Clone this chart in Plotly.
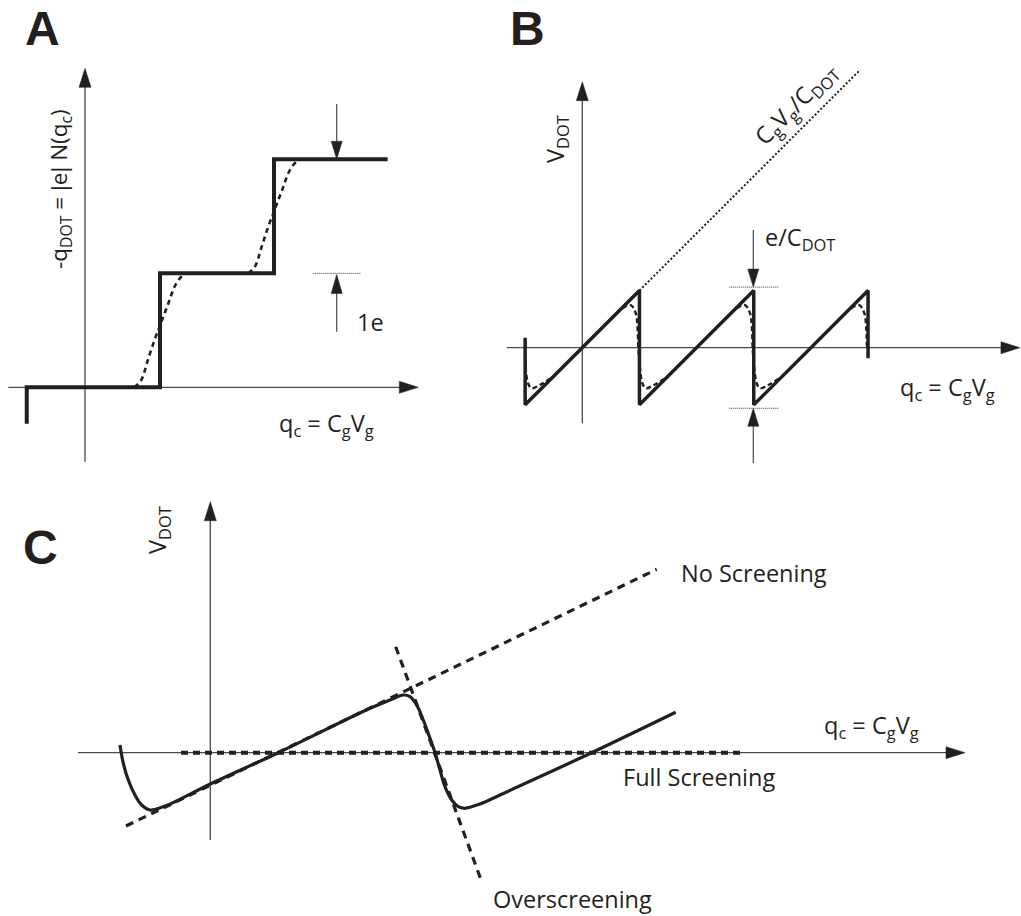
import plotly.graph_objects as go

W, H = 1021, 916
INK = '#231f20'
AXC = '#4a4a4a'
FONT = 'Open Sans'
FS = 23.5

# ---------------- Panel A : charge on the dot (units: one electron) ----------------
A_STEP_X = [-0.511, -0.511, 0.658, 0.658, 1.658, 1.658, 2.655]
A_STEP_Y = [-0.32, 0, 0, 1, 1, 2, 2]
A_EDGE_X = [0.658, 1.658]          # charge-degeneracy points
A_EDGE_BASE = [0, 1]               # level below each step
A_SMOOTH_D = [-0.225, -0.167, -0.108, -0.05, -0.006, 0.038, 0.082, 0.125, 0.169, 0.213, 0.25]
A_SMOOTH_V = [0.0, 0.059, 0.234, 0.41, 0.526, 0.643, 0.76, 0.877, 0.95, 0.99, 1.0]
A_XAXIS = [-0.673, 2.924]
A_YAXIS = [-0.653, 2.798]
A_MARK_X = 2.208
A_DOWN = [2.485, 2.0]
A_UP = [0.488, 0.99]
A_DOT_X = [2.003, 2.418]
A_DOT_Y = [1.0, 1.0]

# ---------------- Panel B : dot potential (sawtooth) ----------------
B_SAW_X = [-0.5, -0.5, 0.5, 0.5, 1.5, 1.5, 2.5, 2.5]
B_SAW_Y = [0.087, -0.5, 0.5, -0.5, 0.5, -0.5, 0.5, -0.093]
B_TEETH = [-0.5, 0.5, 1.5, 2.5]
B_SMOOTH_D = [-0.25, -0.15, -0.076, -0.032, -0.017, -0.01, 0.003, 0.026, 0.055, 0.127, 0.25]
B_SMOOTH_V = [0.25, 0.345, 0.373, 0.30, 0.184, 0.01, -0.166, -0.312, -0.355, -0.326, -0.25]
B_LINE_X = [0.5, 2.43]
B_LINE_Y = [0.5, 2.43]
B_XAXIS = [-0.661, 3.829]
B_YAXIS = [-0.661, 2.327]
B_MARK_X = 1.496
B_DOWN = [1.03, 0.53]
B_UP = [-1.009, -0.53]
B_DOT_X = [1.286, 1.715]
B_DOT_Y = [0.53, -0.53]

# ---------------- Panel C : screening ----------------
C_SOLID_X = [-0.903, -0.87, -0.82, -0.753, -0.686, -0.603, -0.486, -0.353, 0.0, 0.68, 1.597,
             1.797, 1.93, 1.997, 2.064, 2.13, 2.197, 2.247, 2.297, 2.347, 2.414, 2.48, 2.547,
             2.697, 2.897, 3.814, 4.654]
C_SOLID_Y = [0.077, -0.106, -0.273, -0.423, -0.523, -0.573, -0.546, -0.49, -0.313, 0.0, 0.444,
             0.527, 0.577, 0.56, 0.477, 0.327, 0.144, 0.0, -0.173, -0.34, -0.473, -0.54, -0.556,
             -0.513, -0.423, 0.0, 0.404]
C_NOSCREEN_X = [-0.843, 4.464]
C_NOSCREEN_Y = [-0.733, 1.834]
C_FULL_X = [-0.293, 5.347]
C_FULL_Y = [0.0, 0.0]
C_OVER_X = [1.854, 2.714]
C_OVER_Y = [1.06, -1.29]
C_XAXIS = [-1.323, 7.547]
C_YAXIS = [-0.873, 2.51]

# panel boxes in pixels (left, right, top, bottom), origin pixel and px per unit
PANELS = {
    'A': dict(box=(0, 445, 50, 475), origin=(85.0, 387.3), s=114.0, n=''),
    'B': dict(box=(478, 1021, 50, 475), origin=(582.3, 347.7), s=114.3, n='2'),
    'C': dict(box=(0, 1021, 480, 916), origin=(210.3, 752.7), s=100.0, n='3'),
}

fig = go.Figure()


def ax_names(p):
    n = PANELS[p]['n']
    return 'x' + n, 'y' + n


def add_line(p, xs, ys, width, dash='solid', color=INK, shape='linear'):
    xa, ya = ax_names(p)
    fig.add_trace(go.Scatter(x=xs, y=ys, mode='lines', xaxis=xa, yaxis=ya,
                             line=dict(color=color, width=width, dash=dash, shape=shape),
                             hoverinfo='skip', showlegend=False))


def add_head(p, tx, ty, direction, length=19, width=12, color=INK):
    s = PANELS[p]['s']
    L = length / s
    w = width / 2.0 / s
    dx, dy = {'up': (0, 1), 'down': (0, -1), 'left': (-1, 0), 'right': (1, 0)}[direction]
    bx, by = tx - dx * L, ty - dy * L
    nx, ny = -dy, dx
    xa, ya = ax_names(p)
    fig.add_trace(go.Scatter(x=[tx, bx + nx * w, bx - nx * w, tx],
                             y=[ty, by + ny * w, by - ny * w, ty],
                             mode='lines', fill='toself', fillcolor=color,
                             line=dict(color=color, width=0.5), xaxis=xa, yaxis=ya,
                             hoverinfo='skip', showlegend=False))


def add_axes(p, xr, yr):
    s = PANELS[p]['s']
    add_line(p, [xr[0], xr[1] - 6 / s], [0, 0], 1.3, color=AXC)
    add_line(p, [0, 0], [yr[0], yr[1] - 6 / s], 1.3, color=AXC)
    add_head(p, xr[1], 0, 'right')
    add_head(p, 0, yr[1], 'up')


def label(text, px, py, size=FS, angle=0, xanchor='left', yanchor='middle', weight='normal',
          family=FONT):
    fig.add_annotation(text=text, x=px / W, y=1 - py / H, xref='paper', yref='paper',
                       showarrow=False, textangle=angle, xanchor=xanchor, yanchor=yanchor,
                       font=dict(family=family, size=size, color=INK, weight=weight))


# ---------- Panel A ----------
add_axes('A', A_XAXIS, A_YAXIS)
add_line('A', A_STEP_X, A_STEP_Y, 4)
for ex, base in zip(A_EDGE_X, A_EDGE_BASE):
    add_line('A', [ex + d for d in A_SMOOTH_D], [base + v for v in A_SMOOTH_V], 2.6,
             dash='5px,4px', shape='spline')
add_line('A', A_DOT_X, A_DOT_Y, 1, dash='1px,1px', color='#333333')
add_line('A', [A_MARK_X, A_MARK_X], [A_DOWN[0], A_DOWN[1] + 0.1], 1.2, color=AXC)
add_head('A', A_MARK_X, A_DOWN[1], 'down', length=18, width=11)
add_line('A', [A_MARK_X, A_MARK_X], [A_UP[0], A_UP[1] - 0.1], 1.2, color=AXC)
add_head('A', A_MARK_X, A_UP[1], 'up', length=19, width=11)

# ---------- Panel B ----------
add_axes('B', B_XAXIS, B_YAXIS)
add_line('B', B_LINE_X, B_LINE_Y, 2, dash='2px,2px')
add_line('B', B_SAW_X, B_SAW_Y, 3.5)
for i, t in enumerate(B_TEETH):
    pts = [(t + d, v) for d, v in zip(B_SMOOTH_D, B_SMOOTH_V)
           if (i > 0 or d >= 0) and (i < len(B_TEETH) - 1 or d <= 0)]
    add_line('B', [q[0] for q in pts], [q[1] for q in pts], 2.4, dash='5px,3px', shape='spline')
for yv in B_DOT_Y:
    add_line('B', B_DOT_X, [yv, yv], 1, dash='1px,1px', color='#333333')
add_line('B', [B_MARK_X, B_MARK_X], [B_DOWN[0], B_DOWN[1] + 0.1], 1.2, color=AXC)
add_head('B', B_MARK_X, B_DOWN[1], 'down', length=18, width=11)
add_line('B', [B_MARK_X, B_MARK_X], [B_UP[0], B_UP[1] - 0.1], 1.2, color=AXC)
add_head('B', B_MARK_X, B_UP[1], 'up', length=18, width=11)

# ---------- Panel C ----------
add_axes('C', C_XAXIS, C_YAXIS)
add_line('C', C_FULL_X, C_FULL_Y, 4, dash='7px,5px')
add_line('C', C_NOSCREEN_X, C_NOSCREEN_Y, 3.2, dash='8px,6px')
add_line('C', C_OVER_X, C_OVER_Y, 3.2, dash='8px,6px')
add_line('C', C_SOLID_X, C_SOLID_Y, 3.2, shape='spline')

# ---------- axes layout ----------
layout_axes = {}
for p, cfg in PANELS.items():
    l, r, t, b = cfg['box']
    ox, oy = cfg['origin']
    s = cfg['s']
    n = cfg['n']
    layout_axes['xaxis' + n] = dict(domain=[l / W, r / W], range=[(l - ox) / s, (r - ox) / s],
                                    visible=False, fixedrange=True, anchor='y' + n)
    layout_axes['yaxis' + n] = dict(domain=[1 - b / H, 1 - t / H], range=[(oy - b) / s, (oy - t) / s],
                                    visible=False, fixedrange=True, anchor='x' + n)

fig.update_layout(width=W, height=H, autosize=False, margin=dict(l=0, r=0, t=0, b=0),
                  paper_bgcolor='white', plot_bgcolor='rgba(0,0,0,0)', showlegend=False,
                  **layout_axes)

# ---------- texts ----------
label('A', 42.5, 28.5, size=48, xanchor='center', weight='bold', family='Liberation Sans')
label('B', 527.5, 28.5, size=48, xanchor='center', weight='bold', family='Liberation Sans')
label('C', 40, 547, size=48, xanchor='center', weight='bold', family='Liberation Sans')

BAR = '<span style="font-family:Liberation Sans">|</span>'
label('-q<sub>DOT</sub> = ' + BAR + 'e' + BAR + ' N(q<sub>c</sub>)', 60, 189, size=22.5,
      angle=-90, xanchor='center')
label('1e', 355, 322)
label('q<sub>c</sub> = C<sub>g</sub>V<sub>g</sub>', 277, 424)

label('V<sub>DOT</sub>', 556, 139, angle=-90, xanchor='center')
label('C<sub>g</sub>V<sub>g</sub>/C<sub>DOT</sub>', 796, 104, angle=-45, xanchor='center')
label('e/C<sub>DOT</sub>', 763, 239)
label('q<sub>c</sub> = C<sub>g</sub>V<sub>g</sub>', 898, 389)

label('V<sub>DOT</sub>', 158, 530, angle=-90, xanchor='center')
label('No Screening', 679, 573)
label('Full Screening', 621, 777)
label('Overscreening', 491, 899)
label('q<sub>c</sub> = C<sub>g</sub>V<sub>g</sub>', 822, 726)

fig.write_html('out.html')
